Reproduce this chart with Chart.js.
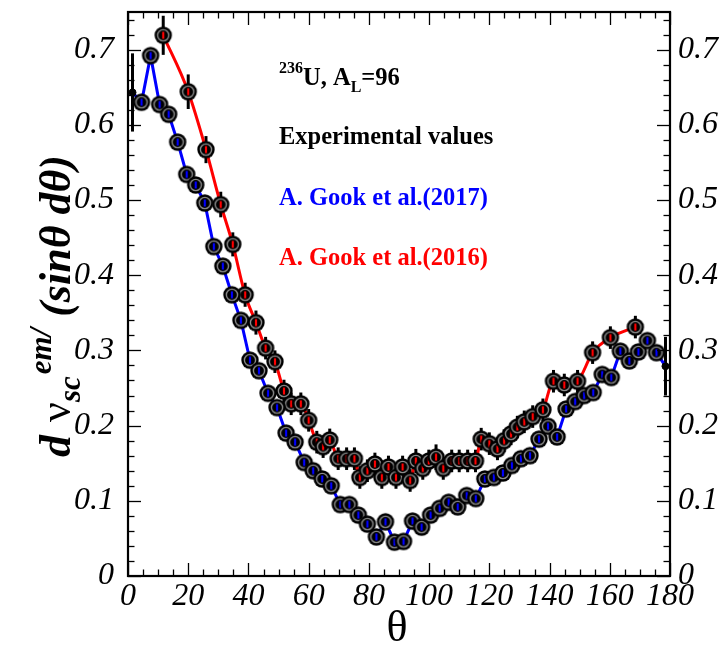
<!DOCTYPE html>
<html><head><meta charset="utf-8">
<script src="https://cdn.jsdelivr.net/npm/chart.js@4.4.1/dist/chart.umd.min.js"></script>
<style>html,body{margin:0;padding:0;background:#fff}#wrap{width:723px;height:645px;position:relative}</style>
</head><body><div id="wrap"><canvas id="c" width="723" height="645"></canvas></div>
<script>
// ---------- data ----------
const blueTheta = [1.5,4.5,7.5,10.5,13.5,16.5,19.5,22.5,25.5,28.5,31.5,34.5,37.5,40.5,43.5,46.5,49.5,52.5,55.5,58.5,
  61.5,64.5,67.5,70.5,73.5,76.5,79.5,82.5,85.5,88.5,91.5,94.5,97.5,100.5,103.5,106.5,109.5,112.5,115.5,118.5,
  121.5,124.5,127.5,130.5,133.5,136.5,139.5,142.5,145.5,148.5,151.5,154.5,157.5,160.5,163.5,166.5,169.5,172.5,175.5,178.5];
const blueValues = [0.643,0.630,0.692,0.627,0.614,0.577,0.534,0.520,0.496,0.438,0.412,0.374,0.340,0.287,0.273,0.243,0.224,0.190,0.178,0.151,
  0.140,0.129,0.120,0.095,0.095,0.081,0.069,0.052,0.072,0.045,0.046,0.073,0.065,0.081,0.090,0.098,0.092,0.107,0.103,0.129,
  0.131,0.137,0.147,0.156,0.160,0.182,0.199,0.185,0.222,0.232,0.240,0.244,0.268,0.264,0.299,0.286,0.298,0.313,0.297,0.279];
const blueErrors = [0.052,0,0,0,0,0,0,0,0,0,0,0,0,0,0,0,0,0,0,0,
  0,0,0,0,0,0,0,0,0,0,0,0,0,0,0,0,0,0,0,0,
  0,0,0,0,0,0,0,0,0,0,0,0,0,0,0,0,0,0,0,0.039];
const redTheta = [11.7,20,25.9,30.8,34.8,38.9,42.5,45.7,48.8,51.8,54.2,57.4,60,62.7,64.8,67,69.8,72.6,75.2,77,
  79.5,82,84.3,86.5,89,91.2,93.7,95.6,97.9,99.9,102.3,104.7,107.5,110,112.8,115.4,117.3,120,122.7,124.9,
  127.2,129.3,131.6,134.4,137.8,141.3,144.9,149.3,154.3,160.2,168.5];
const redValues = [0.719,0.644,0.567,0.494,0.441,0.374,0.337,0.303,0.285,0.246,0.229,0.229,0.207,0.178,0.172,0.181,0.156,0.156,0.156,0.131,
  0.140,0.149,0.131,0.145,0.131,0.145,0.127,0.153,0.143,0.153,0.158,0.143,0.153,0.153,0.153,0.153,0.182,0.176,0.169,0.180,
  0.189,0.198,0.205,0.212,0.221,0.259,0.254,0.259,0.297,0.317,0.331];
const redErrors = [0.026,0.023,0.018,0.017,0.016,0.016,0.016,0.015,0.015,0.015,0.015,0.015,0.015,0.015,0.015,0.015,0.015,0.015,0.015,0.015,
  0.015,0.015,0.015,0.015,0.015,0.015,0.015,0.016,0.015,0.015,0.017,0.015,0.015,0.015,0.015,0.015,0.015,0.015,0.015,0.015,
  0.015,0.015,0.015,0.015,0.015,0.015,0.015,0.015,0.015,0.015,0.015];
const xTicks = [0,20,40,60,80,100,120,140,160,180];
const yTicks = [0,0.1,0.2,0.3,0.4,0.5,0.6,0.7];
const yTickLabels = ['0','0.1','0.2','0.3','0.4','0.5','0.6','0.7'];
const xMinorStep = 5, yMinorStep = 0.02;

// ---------- marker images ----------
function makeMarker(color){
  const cv = document.createElement('canvas'); cv.width = 20; cv.height = 20;
  const g = cv.getContext('2d');
  g.fillStyle = '#000'; g.beginPath(); g.arc(10,10,8.7,0,Math.PI*2); g.fill();
  g.strokeStyle = '#8c8c8c'; g.lineWidth = 1.4; g.beginPath(); g.arc(10,10,5.6,0,Math.PI*2); g.stroke();
  g.strokeStyle = color; g.lineWidth = 2.2; g.beginPath(); g.moveTo(10,6.5); g.lineTo(10,13.5); g.stroke();
  return cv;
}
const markerBlue = makeMarker('#0000ff');
const markerRed = makeMarker('#ff0000');

const SERIF = "'Liberation Serif','Times New Roman',serif";

// ---------- plugins ----------
const errorBars = {
  id:'errorBars',
  beforeDatasetsDraw(chart){
    const c = chart.ctx, y = chart.scales.y;
    chart.data.datasets.forEach((ds,di)=>{
      const meta = chart.getDatasetMeta(di);
      const errs = ds.errors || [];
      c.save(); c.strokeStyle = '#000'; c.lineWidth = 3;
      meta.data.forEach((pt,i)=>{
        const e = errs[i]; if(!e) return;
        const v = ds.data[i].y;
        c.beginPath(); c.moveTo(pt.x, y.getPixelForValue(v-e)); c.lineTo(pt.x, y.getPixelForValue(v+e)); c.stroke();
      });
      c.restore();
    });
  }
};

const frameTicks = {
  id:'frameTicks',
  afterDraw(chart){
    const c = chart.ctx, a = chart.chartArea, xs = chart.scales.x, ys = chart.scales.y;
    c.save();
    c.strokeStyle = '#000'; c.lineWidth = 1.3;
    for(let v=0; v<=180+1e-9; v+=xMinorStep){
      const px = Math.round(xs.getPixelForValue(v))+0.5;
      const major = Math.abs(v/20 - Math.round(v/20))<1e-6;
      const L = major?13:6.5;
      c.beginPath(); c.moveTo(px,a.bottom); c.lineTo(px,a.bottom-L); c.stroke();
      c.beginPath(); c.moveTo(px,a.top); c.lineTo(px,a.top+L); c.stroke();
    }
    for(let k=0; k*yMinorStep<=0.75+1e-9; k++){
      const v = k*yMinorStep;
      const py = Math.round(ys.getPixelForValue(v))+0.5;
      const major = (k%5)===0;
      const L = major?13:6.5;
      c.beginPath(); c.moveTo(a.left,py); c.lineTo(a.left+L,py); c.stroke();
      c.beginPath(); c.moveTo(a.right,py); c.lineTo(a.right-L,py); c.stroke();
    }
    c.lineWidth = 2.2;
    c.strokeRect(a.left, a.top, a.right-a.left, a.bottom-a.top);
    c.restore();
  }
};

function drawRuns(c, runs, x, y){
  let cx = x;
  runs.forEach(r=>{
    c.font = r.font; c.fillStyle = r.color || '#000';
    c.fillText(r.t, cx, y + (r.dy||0));
    cx += c.measureText(r.t).width + (r.gap||0);
  });
  return cx - x;
}
function runsWidth(c, runs){
  let w = 0; runs.forEach(r=>{ c.font = r.font; w += c.measureText(r.t).width + (r.gap||0); }); return w;
}

const texts = {
  id:'texts',
  afterDraw(chart){
    const c = chart.ctx;
    c.save();
    c.textBaseline = 'alphabetic'; c.textAlign = 'left';
    const B24 = 'bold 24.5px '+SERIF, B16 = 'bold 16px '+SERIF;
    drawRuns(c,[{t:'236',font:B16,dy:-12},{t:'U, A',font:B24},{t:'L',font:B16,dy:7},{t:'=96',font:B24}],279,85);
    c.font = B24; c.fillStyle = '#000'; c.fillText('Experimental values',279,144);
    c.fillStyle = '#0000ff'; c.fillText('A. Gook et al.(2017)',279,205);
    c.fillStyle = '#ff0000'; c.fillText('A. Gook et al.(2016)',279,265);
    // x title
    c.fillStyle = '#000'; c.font = '44px '+SERIF; c.textAlign = 'center';
    c.fillText('\u03b8', 397, 641);
    // y title
    c.textAlign = 'left';
    const BI = 'italic bold 44px '+SERIF, BIs = 'italic bold 31px '+SERIF, N = '44px '+SERIF;
    const runs = [
      {t:'d ',font:BI,gap:2},{t:'\u03bd',font:N},{t:'sc',font:BIs,dy:10,gap:2},{t:'em/',font:BIs,dy:-19},
      {t:' (sin',font:BI},{t:'\u03b8',font:BI},{t:' d',font:BI},{t:'\u03b8',font:BI},{t:')',font:BI}
    ];
    const w = runsWidth(c, runs);
    c.translate(70, 306 + w/2);
    c.rotate(-Math.PI/2);
    drawRuns(c, runs, 0, 0);
    c.restore();
  }
};

// ---------- chart ----------
const tickFont = {family:SERIF, style:'italic', size:32};
const special = (ctx)=> ctx.dataIndex===0 || ctx.dataIndex===blueTheta.length-1;
const zeroVPad = s => { s.paddingTop = 0; s.paddingBottom = 0; };
new Chart(document.getElementById('c'), {
  type:'line',
  data:{
    datasets:[
      {
        label:'A. Gook et al.(2017)',
        data: blueTheta.map((t,i)=>({x:t, y:blueValues[i]})),
        errors: blueErrors,
        borderColor:'#0000ff', borderWidth:3, tension:0,
        pointStyle: ctx => special(ctx) ? 'circle' : markerBlue,
        pointRadius: ctx => special(ctx) ? 3.5 : 9,
        pointBackgroundColor:'#000', pointBorderColor:'#000', pointBorderWidth:1
      },
      {
        label:'A. Gook et al.(2016)',
        data: redTheta.map((t,i)=>({x:t, y:redValues[i]})),
        errors: redErrors,
        borderColor:'#ff0000', borderWidth:3, cubicInterpolationMode:'monotone',
        pointStyle: markerRed, pointRadius:9,
        pointBackgroundColor:'#000', pointBorderColor:'#000'
      }
    ]
  },
  options:{
    responsive:false, devicePixelRatio:1, animation:false,
    layout:{padding:{top:10,left:0,right:0,bottom:0}},
    plugins:{legend:{display:false}, tooltip:{enabled:false}},
    scales:{
      x:{type:'linear', min:0, max:180, position:'bottom',
        afterBuildTicks: s => { s.ticks = xTicks.map(v=>({value:v})); },
        ticks:{font:tickFont, color:'#000', padding:1, maxRotation:0, autoSkip:false, callback:v=>String(v)},
        grid:{display:false, drawTicks:false}, border:{display:false},
        afterFit: s => { s.height = 69; s.paddingLeft = 0; s.paddingRight = 0; }
      },
      y:{type:'linear', min:0, max:0.75, position:'left',
        afterBuildTicks: s => { s.ticks = yTicks.map(v=>({value:v})); },
        ticks:{font:tickFont, color:'#000', padding:14, autoSkip:false, callback:(v,i)=>yTickLabels[i]},
        grid:{display:false, drawTicks:false}, border:{display:false},
        afterFit: s => { s.width = 128; zeroVPad(s); }
      },
      y2:{type:'linear', min:0, max:0.75, position:'right',
        afterBuildTicks: s => { s.ticks = yTicks.map(v=>({value:v})); },
        ticks:{font:tickFont, color:'#000', padding:8, autoSkip:false, callback:(v,i)=>yTickLabels[i]},
        grid:{display:false, drawTicks:false}, border:{display:false},
        afterFit: s => { s.width = 53; zeroVPad(s); }
      }
    }
  },
  plugins:[errorBars, frameTicks, texts]
});
</script></body></html>
